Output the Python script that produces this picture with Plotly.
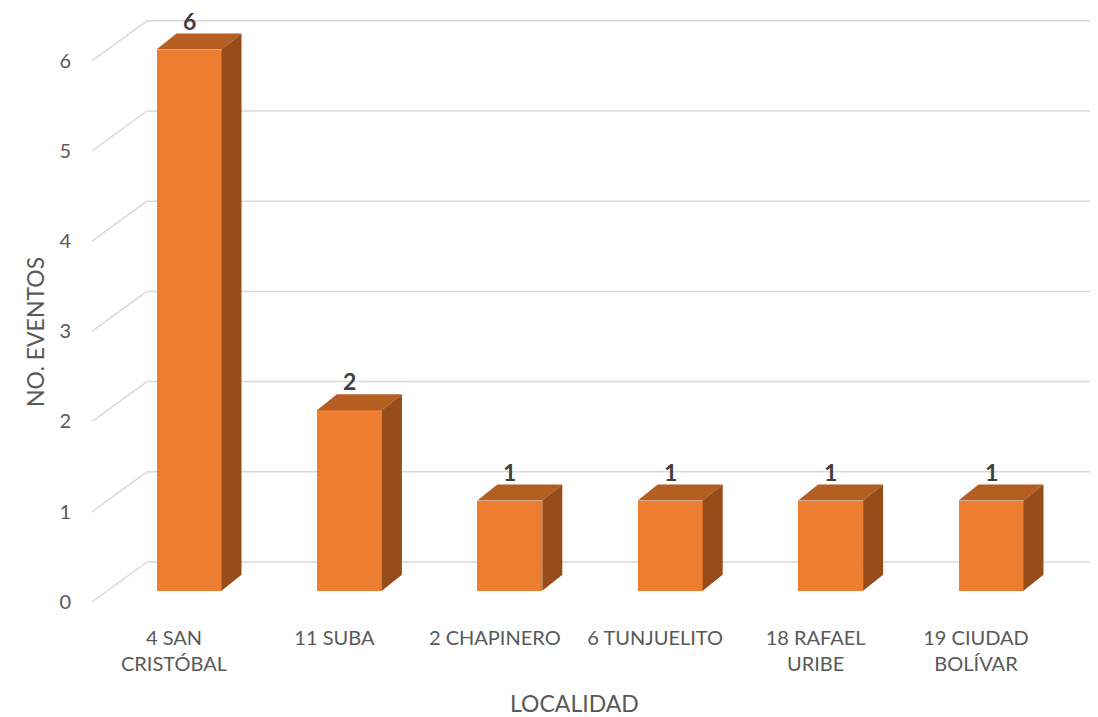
import plotly.graph_objects as go

categories = ["4 SAN CRISTÓBAL", "11 SUBA", "2 CHAPINERO", "6 TUNJUELITO", "18 RAFAEL URIBE", "19 CIUDAD BOLÍVAR"]
tick_labels = ["4 SAN<br>CRISTÓBAL", "11 SUBA", "2 CHAPINERO", "6 TUNJUELITO", "18 RAFAEL<br>URIBE", "19 CIUDAD<br>BOLÍVAR"]
values = [6, 2, 1, 1, 1, 1]
y_ticks = [0, 1, 2, 3, 4, 5, 6]

OFF = 8  # page body margin offset
W, H = 1098 - OFF, 717 - OFF
# pixel layout constants (reference window coords)
L, R, T, B = 90, 1098, 10, 610
cx0, step = 189.0, 160.4        # first bar center, category spacing (px)
y0px, unit = 590.7, 90.2        # value 0 pixel, px per unit
x_min = (L - cx0) / step
x_max = (R - cx0) / step
y_min = (y0px - B) / unit
y_max = (y0px - T) / unit

bar_w = 65 / step
ddx, ddy = 20 / step, 16 / unit          # bar depth offsets
xF, xB = (92 - cx0) / step, (147 - cx0) / step
dyF, dyB = -(602 - y0px) / unit, (y0px - 562) / unit

FRONT, TOP, SIDE = "#ED7D31", "#B55E22", "#974C1A"
GRID = "#D9D9D9"
TXT = "#595959"
FONT = "Lato"

xs = list(range(len(categories)))

fig = go.Figure()

# bar front faces
fig.add_trace(go.Bar(x=xs, y=values, width=bar_w, marker=dict(color=FRONT, line=dict(width=0)),
                     hoverinfo="skip", showlegend=False))

# top & side faces
tx, ty, sx, sy = [], [], [], []
for i, v in zip(xs, values):
    a, b = i - bar_w / 2, i + bar_w / 2
    tx += [a, b, b + ddx, a + ddx, a, None]
    ty += [v, v, v + ddy, v + ddy, v, None]
    sx += [b, b + ddx, b + ddx, b, b, None]
    sy += [0, ddy, v + ddy, v, 0, None]
fig.add_trace(go.Scatter(x=tx, y=ty, mode="lines", fill="toself", fillcolor=TOP,
                         line=dict(width=0, color=TOP), hoverinfo="skip", showlegend=False))
fig.add_trace(go.Scatter(x=sx, y=sy, mode="lines", fill="toself", fillcolor=SIDE,
                         line=dict(width=0, color=SIDE), hoverinfo="skip", showlegend=False))

# gridlines: diagonal side wall + back wall
shapes = []
for v in y_ticks:
    shapes.append(dict(type="line", xref="x", yref="y", x0=xF, y0=v + dyF, x1=xB, y1=v + dyB,
                       line=dict(color=GRID, width=1.5), layer="below"))
    shapes.append(dict(type="line", xref="x", yref="y", x0=xB, y0=v + dyB, x1=x_max, y1=v + dyB,
                       line=dict(color=GRID, width=1.5), layer="below"))

annotations = []
for i, v in zip(xs, values):
    annotations.append(dict(x=i, y=v, xref="x", yref="y", text=f"<b>{v}</b>", showarrow=False,
                            yshift=29, font=dict(family=FONT, size=23, color="#404040")))
annotations.append(dict(x=(35 - L) / (R - L), y=(B - 332) / (B - T), xref="paper", yref="paper",
                        xanchor="center", yanchor="middle",
                        text="NO. EVENTOS", textangle=-90, showarrow=False,
                        font=dict(family=FONT, size=23, color=TXT)))
annotations.append(dict(x=(574 - L) / (R - L), y=(B - 703) / (B - T), xref="paper", yref="paper",
                        xanchor="center", yanchor="middle",
                        text="LOCALIDAD", showarrow=False,
                        font=dict(family=FONT, size=23, color=TXT)))

fig.update_layout(
    width=W, height=H,
    margin=dict(l=L - OFF, r=1098 - R, t=T - OFF, b=717 - B),
    paper_bgcolor="white", plot_bgcolor="white",
    shapes=shapes, annotations=annotations,
    xaxis=dict(range=[x_min, x_max], tickvals=xs, ticktext=tick_labels, showgrid=False,
               zeroline=False, showline=False, ticks="", ticklabelshift=-15, ticklabelstandoff=14,
               tickfont=dict(family=FONT, size=20, color=TXT), fixedrange=True),
    yaxis=dict(range=[y_min, y_max], tickvals=y_ticks, showgrid=False, zeroline=False,
               showline=False, ticks="", ticklabelshift=11, ticklabelstandoff=18,
               tickfont=dict(family=FONT, size=20, color=TXT), fixedrange=True),
    bargap=0,
)

fig.write_html("out.html")
